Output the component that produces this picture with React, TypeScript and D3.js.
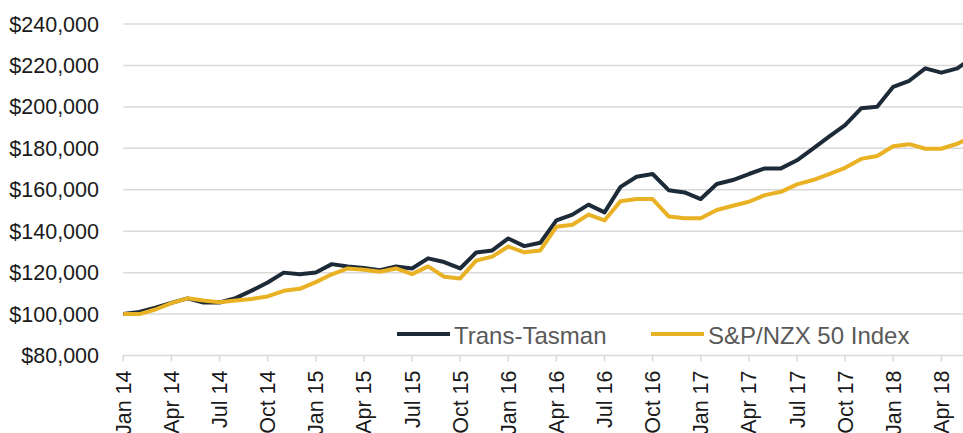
import { useEffect, useRef } from "react";
import * as d3 from "d3";

// monthly, Jan 14 .. Jun 18 (last point runs off the right edge)
const months = d3.timeMonth.range(new Date(2014, 0, 1), new Date(2018, 6, 1)).map(d3.timeFormat("%b %y"));

const transTasman = [
  100000, 101000, 103100, 105400, 107600, 105600, 105600, 107700, 111300, 115200, 120000, 119200,
  120100, 124100, 123000, 122200, 121200, 123000, 122000, 126900, 125100, 122000, 129700, 130700,
  136500, 132800, 134400, 145200, 148000, 152800, 149100, 161400, 166300, 167600, 159800, 158700,
  155500, 162800, 164700, 167600, 170300, 170300, 174200, 179800, 185600, 191200, 199300, 200100,
  209700, 212600, 218600, 216500, 218600, 224000,
];

const nzx50 = [
  100000, 100000, 102200, 105300, 107600, 106500, 105700, 106500, 107300, 108500, 111200, 112200,
  115400, 119200, 122000, 121400, 120400, 122000, 119300, 123000, 118000, 117200, 125800, 127700,
  132600, 129800, 130700, 142100, 143100, 148000, 145200, 154500, 155500, 155500, 147100, 146200,
  146200, 150200, 152300, 154200, 157400, 159000, 162600, 164700, 167600, 170600, 174900, 176300,
  181000, 182000, 179800, 179800, 182200, 186000,
];

const yTicks = [80000, 100000, 120000, 140000, 160000, 180000, 200000, 220000, 240000];

const series = [
  { name: "Trans-Tasman", values: transTasman, color: "#1d2a37" },
  { name: "S&P/NZX 50 Index", values: nzx50, color: "#e9b124" },
];

export default function App() {
  const ref = useRef<SVGSVGElement>(null);
  useEffect(() => {
    if (!ref.current) return;
    const svg = d3.select(ref.current);
    svg.selectAll("*").remove();
    const W = 963, H = 433;
    const left = 123.3, step = 16.04;
    const font = "'Liberation Sans', Arial, sans-serif";

    const x = d3.scalePoint<string>().domain(months).range([left, left + step * (months.length - 1)]);
    const y = d3.scaleLinear().domain([80000, 240000]).range([355.5, 24]);
    const fmt = (v: number) => "$" + d3.format(",")(v);

    // grid
    svg.append("g").selectAll("line").data(yTicks).enter().append("line")
      .attr("x1", left).attr("x2", W)
      .attr("y1", (d) => y(d)).attr("y2", (d) => y(d))
      .attr("stroke", "#d9d9d9").attr("stroke-width", 1.5);

    // y labels
    svg.append("g").selectAll("text").data(yTicks).enter().append("text")
      .attr("x", 99).attr("y", (d) => y(d)).attr("dy", "0.35em")
      .attr("text-anchor", "end").attr("font-family", font).attr("font-size", 21.5)
      .attr("fill", "#1a1a1a").text(fmt);

    // x ticks + labels
    const tickCats = months.filter((_, i) => i % 3 === 0);
    const base = y(80000);
    svg.append("g").selectAll("line").data(tickCats).enter().append("line")
      .attr("x1", (d) => x(d)!).attr("x2", (d) => x(d)!)
      .attr("y1", base).attr("y2", base + 6)
      .attr("stroke", "#d9d9d9").attr("stroke-width", 1.5);
    svg.append("g").selectAll("text").data(tickCats).enter().append("text")
      .attr("transform", (d) => `translate(${x(d)},${base + 15}) rotate(-90)`)
      .attr("dy", "0.35em").attr("text-anchor", "end")
      .attr("font-family", font).attr("font-size", 21.5).attr("fill", "#1a1a1a")
      .text((d) => d);

    // lines
    const line = d3.line<number>().x((_, i) => x(months[i])!).y((d) => y(d));
    series.forEach((s) => {
      svg.append("path").datum(s.values).attr("d", line)
        .attr("fill", "none").attr("stroke", s.color).attr("stroke-width", 4)
        .attr("stroke-linejoin", "round");
    });

    // legend
    const lg = [
      { x: 397, ...series[0] },
      { x: 651, ...series[1] },
    ];
    lg.forEach((l) => {
      svg.append("line").attr("x1", l.x).attr("x2", l.x + 53).attr("y1", 334).attr("y2", 334)
        .attr("stroke", l.color).attr("stroke-width", 4);
      svg.append("text").attr("x", l.x + 57).attr("y", 344)
        .attr("font-family", font).attr("font-size", 24).attr("fill", "#595959")
        .text(l.name);
    });
    svg.attr("width", W).attr("height", H);
  }, []);
  return (
    <svg ref={ref} width={963} height={433}
      style={{ position: "absolute", left: 0, top: 0, background: "#fff" }} />
  );
}
